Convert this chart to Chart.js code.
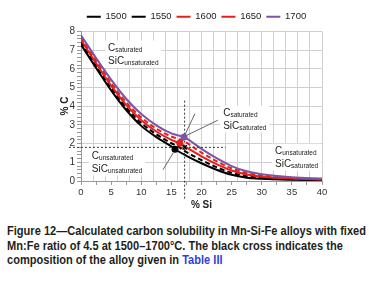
<!DOCTYPE html>
<html>
<head>
<meta charset="utf-8">
<script src="https://cdn.jsdelivr.net/npm/chart.js@4.4.0/dist/chart.umd.min.js"></script>
<style>
  body { margin: 0; background: #fff; }
  #wrap { position: relative; width: 369px; height: 291px; overflow: hidden; }
  #caption {
    position: absolute; left: 7px; top: 224px;
    font: bold 12.5px "Liberation Sans", Arial, sans-serif;
    line-height: 14.5px; color: #231f20;
    transform-origin: 0 0; white-space: nowrap;
  }
  #caption .link { color: #2f3fe0; }
  #ytitle {
    position: absolute; left: 50px; top: 100px; width: 30px; height: 12px;
    font: bold 10px "Liberation Sans", Arial, sans-serif; color: #222;
    text-align: center; line-height: 12px; transform: rotate(-90deg); white-space: nowrap;
  }
</style>
</head>
<body>
<div id="wrap">
  <canvas id="chart" width="369" height="215"></canvas>
  <div id="ytitle">% C</div>
  <div id="caption">
    <div><span id="capFirst">Figure 12—Calculated carbon solubility in Mn-Si-Fe alloys with fixed</span></div>
    <div>Mn:Fe ratio of 4.5 at 1500–1700°C. The black cross indicates the</div>
    <div>composition of the alloy given in <span class="link">Table III</span></div>
  </div>
</div>
<script>
// series (% Si -> % C)
const temps = ['1500', '1550', '1600', '1650', '1700'];

const si1500 = [0, 2.5, 5, 7.5, 10, 12.5, 15, 15.6, 17.5, 20, 22.5, 25, 27.5, 30, 35, 40];
const c1500  = [7.3, 6.05, 4.85, 3.8, 2.95, 2.35, 1.85, 1.7, 1.35, 0.95, 0.6, 0.33, 0.18, 0.12, 0.07, 0.05];

const si1550 = [0, 2.5, 5, 7.5, 10, 12.5, 15, 16.0, 17.5, 20, 22.5, 25, 27.5, 30, 35, 40];
const c1550  = [7.42, 6.17, 4.97, 3.93, 3.1, 2.5, 2.02, 1.86, 1.55, 1.12, 0.74, 0.44, 0.26, 0.17, 0.1, 0.06];

const si1600 = [0, 2.5, 5, 7.5, 10, 12.5, 15, 16.4, 17.5, 20, 22.5, 25, 27.5, 30, 35, 40];
const c1600  = [7.55, 6.3, 5.1, 4.07, 3.25, 2.65, 2.2, 2.02, 1.8, 1.32, 0.9, 0.56, 0.35, 0.23, 0.13, 0.08];

const si1650 = [0, 2.5, 5, 7.5, 10, 12.5, 15, 16.8, 17.5, 20, 22.5, 25, 27.5, 30, 35, 40];
const c1650  = [7.68, 6.43, 5.25, 4.22, 3.4, 2.8, 2.38, 2.18, 2.05, 1.52, 1.06, 0.68, 0.43, 0.29, 0.16, 0.1];

const si1700 = [0, 2.5, 5, 7.5, 10, 12.5, 15, 17.1, 17.5, 20, 22.5, 25, 27.5, 30, 35, 40];
const c1700  = [7.8, 6.58, 5.42, 4.4, 3.58, 2.98, 2.55, 2.35, 2.28, 1.72, 1.22, 0.8, 0.52, 0.36, 0.2, 0.13];

// marked points (black / red / purple) and the alloy cross
const markerSi = [15.6, 16.4, 17.1];
const markerC  = [1.7, 2.02, 2.35];
const crossSi = [17.2];
const crossC  = [1.8];

// dotted guide lines through the alloy composition
const guideHSi = [-2, 24];
const guideHC  = [1.8, 1.8];
const guideVSi = [17.2, 17.2];
const guideVC  = [4.3, -1];

// leader lines from the region labels
const leaderASi = [18.9, 17.3];
const leaderAC  = [3.6, 2.5];
const leaderBSi = [22.7, 17.4];
const leaderBC  = [3.25, 2.42];
const leaderCSi = [13.6, 15.3];
const leaderCC  = [0.6, 1.5];

const xTicks = [0, 5, 10, 15, 20, 25, 30, 35, 40];
const yTicks = [0, 1, 2, 3, 4, 5, 6, 7, 8];

const regionNotes = [
  { sub1: 'saturated',   sub2: 'unsaturated', si: 4.5,  c: 6.98 },
  { sub1: 'saturated',   sub2: 'saturated',   si: 23.6, c: 3.5 },
  { sub1: 'unsaturated', sub2: 'unsaturated', si: 1.8,  c: 1.2 },
  { sub1: 'unsaturated', sub2: 'saturated',   si: 32.2, c: 1.46 }
];

const pts = (xs, ys) => xs.map((x, i) => ({ x: x, y: ys[i] }));

const curveStyle = [
  { color: '#000000', dash: [] },
  { color: '#000000', dash: [5, 3] },
  { color: '#e3211c', dash: [] },
  { color: '#e3211c', dash: [5, 3] },
  { color: '#7a55a8', dash: [] }
];
const curveData = [pts(si1500, c1500), pts(si1550, c1550), pts(si1600, c1600), pts(si1650, c1650), pts(si1700, c1700)];

const datasets = curveData.map((d, i) => ({
  label: temps[i],
  data: d,
  borderColor: curveStyle[i].color,
  backgroundColor: curveStyle[i].color,
  borderDash: curveStyle[i].dash,
  borderWidth: 2,
  pointRadius: 0,
  cubicInterpolationMode: 'monotone',
  order: 10 - i
}));

const thinLine = (data, color, dash) => ({
  label: '', data: data, borderColor: color, borderWidth: 1, borderDash: dash,
  pointRadius: 0, clip: false, order: 1
});
datasets.push(thinLine(pts(guideHSi, guideHC), '#333', [2, 2]));
datasets.push(thinLine(pts(guideVSi, guideVC), '#333', [2, 2]));
datasets.push(thinLine(pts(leaderASi, leaderAC), '#666', []));
datasets.push(thinLine(pts(leaderBSi, leaderBC), '#666', []));
datasets.push(thinLine(pts(leaderCSi, leaderCC), '#666', []));

datasets.push({
  label: '', data: pts(markerSi, markerC), showLine: false,
  pointRadius: 3.5, pointBorderWidth: 0,
  pointBackgroundColor: ['#000000', '#e3211c', '#7a55a8'], order: 0
});
datasets.push({
  label: '', data: pts(crossSi, crossC), showLine: false,
  pointStyle: 'crossRot', pointRadius: 3, pointBorderWidth: 1.5,
  pointBorderColor: '#000', order: 0
});

const isNear = (v, list) => list.some(t => Math.abs(v - t) < 1e-6);
const isMult = (v, m) => Math.abs(v / m - Math.round(v / m)) < 1e-6;
const fontFam = '"Liberation Sans", Arial, sans-serif';

// white-backed region labels with subscripts
const notesPlugin = {
  id: 'notes',
  beforeDatasetsDraw(chart) {
    const ctx = chart.ctx;
    const xs = chart.scales.x, ys = chart.scales.y;
    const big = '10px ' + fontFam;
    const small = '6.5px ' + fontFam;
    ctx.save();
    regionNotes.forEach(n => {
      const px = xs.getPixelForValue(n.si);
      const py = ys.getPixelForValue(n.c);
      const rows = [['C', n.sub1], ['SiC', n.sub2]];
      let w = 0;
      rows.forEach(r => {
        ctx.font = big; const a = ctx.measureText(r[0]).width;
        ctx.font = small; const b = ctx.measureText(r[1]).width;
        w = Math.max(w, a + b);
      });
      ctx.fillStyle = '#fff';
      ctx.fillRect(px - 3, py - 10, w + 6, 27);
      ctx.fillStyle = '#222';
      ctx.textBaseline = 'alphabetic';
      rows.forEach((r, k) => {
        const y = py + k * 13;
        ctx.font = big;
        ctx.fillText(r[0], px, y);
        const a = ctx.measureText(r[0]).width;
        ctx.font = small;
        ctx.fillText(r[1], px + a, y + 1.5);
      });
    });
    ctx.restore();
  }
};

const chart = new Chart(document.getElementById('chart'), {
  type: 'line',
  data: { datasets: datasets },
  plugins: [notesPlugin],
  options: {
    responsive: false,
    animation: false,
    layout: { padding: { left: 24, right: 0, top: 0, bottom: 0 } },
    plugins: {
      tooltip: { enabled: false },
      legend: {
        position: 'top',
        labels: {
          filter: item => item.datasetIndex < 5,
          sort: (a, b) => a.datasetIndex - b.datasetIndex,
          usePointStyle: true,
          pointStyle: 'line',
          pointStyleWidth: 14,
          padding: 5,
          color: '#222',
          font: { family: fontFam, size: 9.5 }
        }
      }
    },
    scales: {
      x: {
        type: 'linear', min: 0, max: 40,
        afterFit: s => { s.height = 34; },
        afterBuildTicks: s => { s.ticks = []; for (let v = 0; v <= 40.001; v += 0.5) s.ticks.push({ value: v }); },
        ticks: {
          autoSkip: false, maxRotation: 0, padding: 2, color: '#333',
          font: { family: fontFam, size: 9.5 },
          callback: v => isNear(v, xTicks) ? String(Math.round(v)) : ''
        },
        grid: {
          color: c => (isMult(c.tick.value, 2) && c.tick.value > 0) ? '#d0d0d0' : 'rgba(0,0,0,0)',
          tickColor: c => isMult(c.tick.value, 2.5) ? '#999' : 'rgba(0,0,0,0)',
          tickLength: 4
        },
        border: { color: '#999' },
        title: {
          display: true, text: '% Si', color: '#222',
          font: { family: fontFam, size: 10, weight: 'bold' },
          padding: { top: 0, bottom: 4 }
        }
      },
      y: {
        type: 'linear', min: 0, max: 8,
        afterFit: s => { s.width = 57; },
        afterBuildTicks: s => { s.ticks = []; for (let k = 0; k <= 40; k++) s.ticks.push({ value: k * 0.2 }); },
        ticks: {
          autoSkip: false, padding: 2, color: '#333',
          font: { family: fontFam, size: 10 },
          callback: v => isNear(v, yTicks) ? String(Math.round(v)) : ''
        },
        grid: {
          color: c => (isMult(c.tick.value, 1) && c.tick.value > 0.5) ? '#d0d0d0' : 'rgba(0,0,0,0)',
          tickColor: '#999',
          tickLength: 4
        },
        border: { color: '#999' }
      },
      y2: {
        position: 'right', display: true,
        afterFit: s => { s.width = 47; },
        ticks: { display: false },
        grid: { display: false, drawTicks: false },
        border: { display: false }
      }
    }
  }
});

// move the plot so its frame sits where the reference frame is
const dy = 31.5 - chart.chartArea.top;
chart.options.layout.padding.top = Math.max(0, dy);
chart.update();

// fit the caption's narrow bold face to the reference width
const cap = document.getElementById('caption');
const firstW = document.getElementById('capFirst').getBoundingClientRect().width;
cap.style.transform = 'scaleX(' + (359 / firstW) + ')';
</script>
</body>
</html>
